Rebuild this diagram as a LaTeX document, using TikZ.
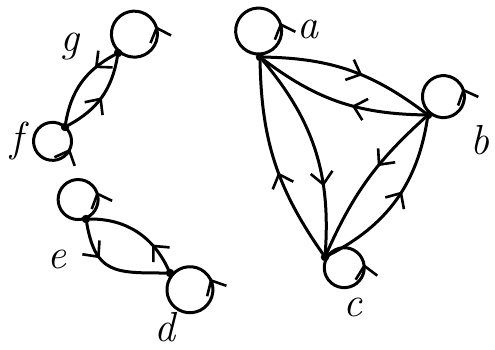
\documentclass[tikz,border=0pt]{standalone}
\usetikzlibrary{arrows.meta,decorations.markings}
\begin{document}
\begin{tikzpicture}[x=1pt,y=1pt,
  vtx/.style={circle,fill=black,draw=black,inner sep=0pt,minimum size=8pt},
  lbl/.style={font=\fontsize{42}{44}\selectfont\itshape,inner sep=0pt},
  edge/.style={draw,line width=3pt,line cap=round},
  midarrow/.style={postaction={decorate},decoration={markings,
     mark=at position #1 with {\arrow[line width=2.6pt]{Straight Barb[length=12pt,width=22pt]}}}}]
\useasboundingbox (0,0) rectangle (495,349);
% vertices
\node[vtx] (a) at (260,292) {};
\node[vtx] (b) at (428,234) {};
\node[vtx] (c) at (325,92) {};
\node[vtx] (g) at (118,296) {};
\node[vtx] (f) at (65,222) {};
\node[vtx] (e) at (86,130) {};
\node[vtx] (d) at (170,76) {};
% labels
\node[lbl] (la) at (308,320) {a};
\node[lbl] (lb) at (480,209) {b};
\node[lbl] (lc) at (353,42) {c};
\node[lbl] (lg) at (70,302) {g};
\node[lbl] (lf) at (17,208) {f};
\node[lbl] (le) at (57,90) {e};
\node[lbl] (ld) at (165,22) {d};
% loops
\draw[edge,midarrow=0.30] (a.center) ++(93:3) arc[start angle=273,delta angle=360,radius=23];
\draw[edge,midarrow=0.425] (b.center) ++(50:3) arc[start angle=230,delta angle=360,radius=21];
\draw[edge,midarrow=0.61] (c.center) ++(-29:2) arc[start angle=151,delta angle=360,radius=20];
\draw[edge,midarrow=0.42] (g.center) ++(49:2) arc[start angle=229,delta angle=360,radius=23];
\draw[edge,midarrow=0.80] (f.center) ++(229:0) arc[start angle=49,delta angle=360,radius=19];
\draw[edge,midarrow=0.25] (e.center) ++(112:1) arc[start angle=292,delta angle=360,radius=20];
\draw[edge,midarrow=0.69] (d.center) ++(-40:3) arc[start angle=140,delta angle=360,radius=23];
% edges
\draw[edge,midarrow=0.58] (a) to[bend left=18] (b);
\draw[edge,midarrow=0.42] (b) to[bend left=18] (a);
\draw[edge,midarrow=0.68] (a) to[bend left=22] (c);
\draw[edge,midarrow=0.45] (c) to[bend left=17] (a);
\draw[edge,midarrow=0.40] (b) to[bend right=12] (c);
\draw[edge,midarrow=0.56] (c) to[bend right=27] (b);
\draw[edge,midarrow=0.27] (g) to[bend right=26] (f);
\draw[edge,midarrow=0.50] (f) to[bend right=26] (g);
\draw[edge,midarrow=0.35] (e) to[out=-80,in=180,looseness=1.4] (d);
\draw[edge,midarrow=0.30] (d) to[out=115,in=0] (e);
\end{tikzpicture}
\end{document}
